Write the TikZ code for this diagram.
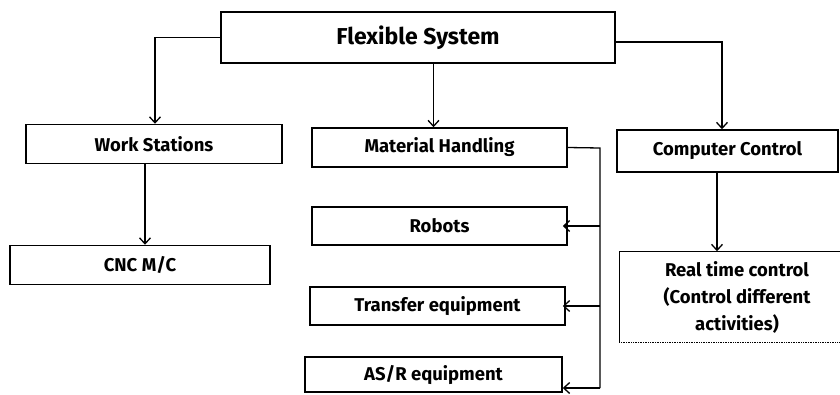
\documentclass[tikz,border=0pt]{standalone}
\usepackage{fontspec}
\setmainfont{Fira Sans}
\usetikzlibrary{arrows.meta,calc,positioning}

\begin{document}
\begin{tikzpicture}[
  x=1pt, y=-1pt,
  block/.style={draw, line width=1.5pt, fill=white, minimum height=39pt,
                inner sep=0pt, font=\bfseries\fontsize{18.5}{22}\selectfont, align=center},
  topblock/.style={block, minimum width=394pt, minimum height=51pt,
                   font=\bfseries\fontsize{23}{27}\selectfont},
  link/.style={line width=1.3pt, -{Straight Barb[length=6pt,width=11pt]}},
  >=Stealth
]
\useasboundingbox (0,0) rectangle (840,394);

% Top level
\node[topblock] (sys) at (418,37.5) {Flexible System};

% Second level
\node[block, minimum width=256pt] (ws) at (154,144)   {Work Stations};
\node[block, minimum width=255pt] (mh) at (439.5,147.5) {Material Handling};
\node[block, minimum width=221pt, minimum height=42pt] (cc) at (727.5,151) {Computer Control};

% Third level
\node[block, minimum width=260pt] (cnc) at (140,265) {CNC M/C};
\node[block, minimum width=255pt, minimum height=38pt] (rob) at (439.5,226) {Robots};
\node[block, minimum width=255pt, minimum height=38pt] (tr)  at (437.5,306) {Transfer equipment};
\node[block, minimum width=257pt, minimum height=35pt] (asr) at (433.5,374.5) {AS/R equipment};
\node[block, draw=none, fill=none, minimum width=220pt, minimum height=90pt,
      font=\bfseries\fontsize{18.5}{27}\selectfont] (rt) at (730,297)
  {\hspace*{14pt}Real time control\\\hspace*{14pt}(Control different\\\hspace*{14pt}activities)};
% Real time box: right side runs off the page, bottom is faint
\draw[line width=1.5pt] (rt.south west) |- ([xshift=4pt]rt.north east);
\draw[densely dotted, line width=0.7pt] (rt.south west) -- ([xshift=4pt]rt.south east);

% Top level to second level
\draw[link] (sys.west) -| ([xshift=1pt]ws.north);
\draw[link] ([xshift=-6pt]mh.north |- sys.south) -- ([xshift=-6pt]mh.north);
\draw[link] ([yshift=-4.5pt]sys.east) -| ([xshift=-5.5pt]cc.north);

% Second level to third level
\draw[link] ([xshift=5pt]cnc.north |- ws.south) -- ([xshift=5pt]cnc.north);
\draw[link] ([xshift=-13pt]rt.north |- cc.south) -- ([xshift=-13pt]rt.north);

% Material handling bus on the right
\coordinate (bus) at (600,148);
\coordinate (asrin) at ([yshift=-13.5pt]asr.east);
\draw[line width=1.3pt] (mh.east) -- (bus) -- (bus |- asrin);
\foreach \dest in {rob, tr, asrin}{
  \draw[link] (bus |- \dest) -- (\dest -| asr.east);
}

\end{tikzpicture}
\end{document}
